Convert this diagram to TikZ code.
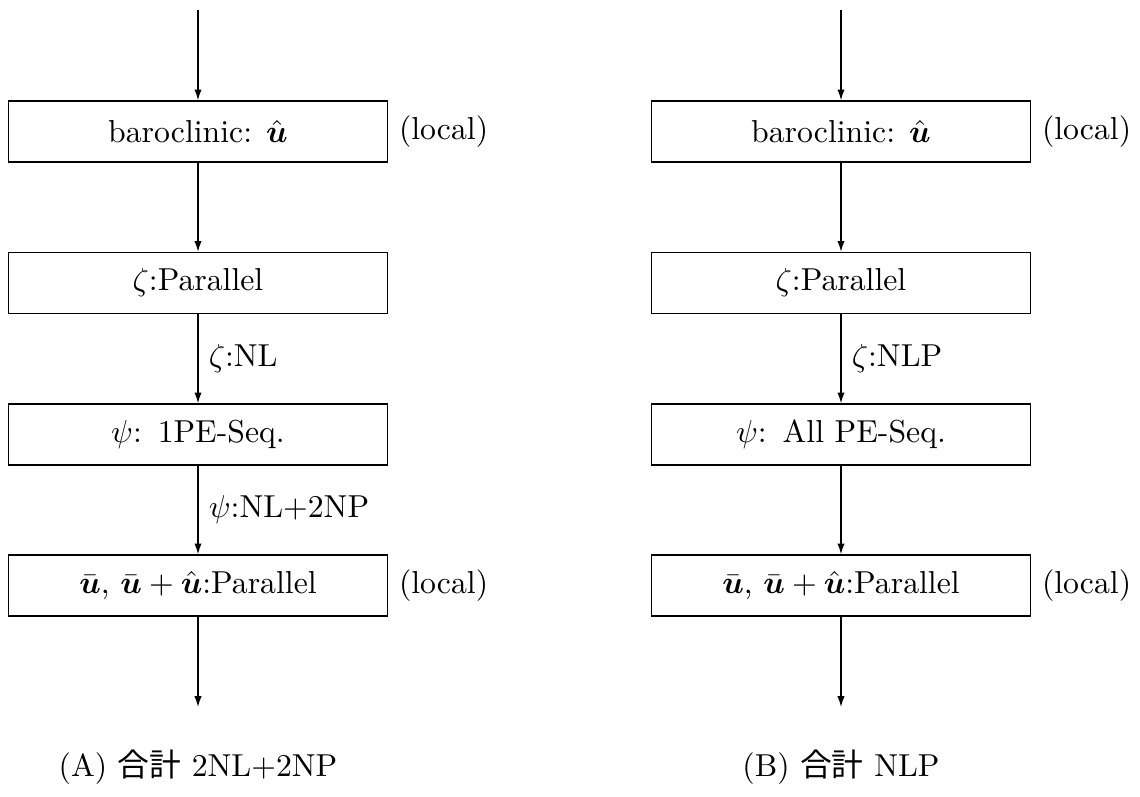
\documentclass[tikz,border=0pt]{standalone}
\usepackage{amsmath}
\usepackage{fontspec}
\newfontfamily\cjk{Noto Sans CJK JP}
\usetikzlibrary{arrows.meta}
\begin{document}
\begin{tikzpicture}[x=0.315pt,y=-0.315pt,
  box/.style={draw,line width=0.45pt,minimum width=119.4pt,minimum height=19.2pt,inner sep=0pt,anchor=center},
  side/.style={anchor=west,inner sep=0pt,xshift=3.2pt},
  elab/.style={anchor=west,inner sep=0pt,xshift=3.2pt},
  flow/.style={line width=0.45pt,-{Latex[length=3.4pt,width=2.3pt]}},
  captext/.style={anchor=center,inner sep=0pt}]
\useasboundingbox (0,0) rectangle (1140,796);
% left column
\coordinate (as) at (198,10);
\node[box] (a1) at (198,131.5) {baroclinic: $\hat{\boldsymbol u}$};
\node[box] (a2) at (198,283) {$\zeta$:Parallel};
\node[box] (a3) at (198,434.5) {$\psi$:\enspace 1PE-Seq.};
\node[box] (a4) at (198,585.5) {$\bar{\boldsymbol u}$, $\bar{\boldsymbol u}+\hat{\boldsymbol u}$:Parallel};
\coordinate (ae) at (198,707);
\node[side] (al1) at (a1.east) {(local)};
\node[side] (al4) at (a4.east) {(local)};
\draw[flow] (as) -- (a1);
\draw[flow] (a1) -- (a2);
\draw[flow] (a2) -- node[elab] (ael1) {$\zeta$:NL} (a3);
\draw[flow] (a3) -- node[elab] (ael2) {$\psi$:NL+2NP} (a4);
\draw[flow] (a4) -- (ae);
\node[captext] (acap) at (198,767) {(A) {\cjk 合計} 2NL+2NP};
% right column
\coordinate (bs) at (841,10);
\node[box] (b1) at (841,131.5) {baroclinic: $\hat{\boldsymbol u}$};
\node[box] (b2) at (841,283) {$\zeta$:Parallel};
\node[box] (b3) at (841,434.5) {$\psi$:\enspace All PE-Seq.};
\node[box] (b4) at (841,585.5) {$\bar{\boldsymbol u}$, $\bar{\boldsymbol u}+\hat{\boldsymbol u}$:Parallel};
\coordinate (be) at (841,707);
\node[side] (bl1) at (b1.east) {(local)};
\node[side] (bl4) at (b4.east) {(local)};
\draw[flow] (bs) -- (b1);
\draw[flow] (b1) -- (b2);
\draw[flow] (b2) -- node[elab] (bel1) {$\zeta$:NLP} (b3);
\draw[flow] (b3) -- (b4);
\draw[flow] (b4) -- (be);
\node[captext] (bcap) at (841,767) {(B) {\cjk 合計} NLP};
\end{tikzpicture}
\end{document}
